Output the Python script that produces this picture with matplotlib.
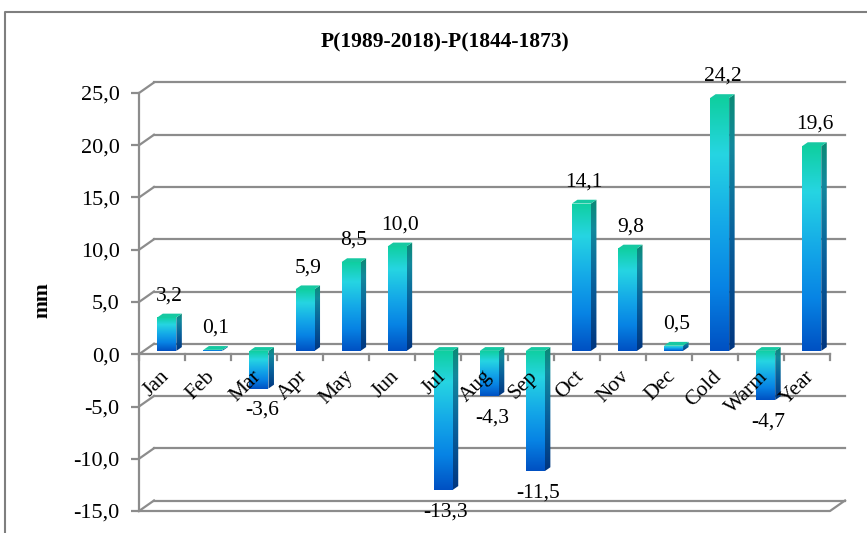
import numpy as np
import matplotlib
matplotlib.use("Agg")
import matplotlib.pyplot as plt
from matplotlib.colors import LinearSegmentedColormap
from matplotlib.patches import Polygon
from matplotlib.lines import Line2D
from matplotlib.ticker import FuncFormatter

# ---- data -------------------------------------------------------------
categories = ["Jan", "Feb", "Mar", "Apr", "May", "Jun", "Jul", "Aug", "Sep",
              "Oct", "Nov", "Dec", "Cold", "Warm", "Year"]
values = [3.2, 0.1, -3.6, 5.9, 8.5, 10.0, -13.3, -4.3, -11.5,
          14.1, 9.8, 0.5, 24.2, -4.7, 19.6]
y_ticks = [-15, -10, -5, 0, 5, 10, 15, 20, 25]
title = "P(1989-2018)-P(1844-1873)"
y_label = "mm"

plt.rcParams["font.family"] = ["Liberation Serif", "DejaVu Serif"]

W, H = 867, 533
fig = plt.figure(figsize=(W / 100, H / 100), dpi=100)
fig.patch.set_facecolor("white")

# front plane of the 3-D plot box (pixel geometry)
ax_l, ax_r, ax_t, ax_b = 139, 830, 93, 511
ax = fig.add_axes([ax_l / W, (H - ax_b) / H, (ax_r - ax_l) / W, (ax_b - ax_t) / H])
ymin, ymax = -15, 25
ncat = len(categories)
ax.set_xlim(0, ncat)
ax.set_ylim(ymin, ymax)
ax.set_facecolor("none")

px_x = (ax_r - ax_l) / ncat          # pixels per category
px_y = (ax_b - ax_t) / (ymax - ymin)  # pixels per mm

# depth of the back wall, in data units
DX = 15 / px_x
DY = 10.5 / px_y

grid_c = "#8c8c8c"
grid_lw = 1.6

# back-wall gridlines with their diagonal joins to the value axis
for v in y_ticks:
    ax.add_line(Line2D([0, DX], [v, v + DY], color=grid_c, lw=grid_lw, clip_on=False))
    ax.add_line(Line2D([DX, ncat + DX], [v + DY, v + DY], color=grid_c, lw=grid_lw,
                       clip_on=False))
# floor at the bottom of the value range
ax.add_line(Line2D([0, ncat, ncat + DX], [ymin, ymin, ymin + DY], color=grid_c,
                   lw=grid_lw, clip_on=False))
# category axis at zero with tick marks between categories
ax.add_line(Line2D([0, ncat], [0, 0], color=grid_c, lw=grid_lw, clip_on=False))
tick_len = 6 / px_y
for k in range(ncat + 1):
    ax.add_line(Line2D([k, k], [0, -tick_len], color=grid_c, lw=grid_lw, clip_on=False))

# ---- bars ---------------------------------------------------------------
front_cmap = LinearSegmentedColormap.from_list(
    "front", [(0.0, "#0050c2"), (0.25, "#0783e4"), (0.5, "#14a8e8"),
              (0.78, "#26d5e2"), (1.0, "#0fcfa0")])
side_cmap = LinearSegmentedColormap.from_list(
    "side", [(0.0, "#00357f"), (0.45, "#08619c"), (0.8, "#12889c"),
             (1.0, "#0a8a74")])
top_color = "#16c9a2"

bar_w = 19 / px_x
d0 = 0.32                 # front face position within the box depth
bdx = 5.5 / px_x          # bar depth
bdy = 3.8 / px_y
grad = np.linspace(0, 1, 256).reshape(-1, 1)

for i, v in enumerate(values):
    x0 = i + 0.5 - bar_w / 2 + d0 * DX
    x1 = x0 + bar_w
    yb = d0 * DY
    ylo, yhi = min(yb, yb + v), max(yb, yb + v)

    # front face with vertical gradient
    front = Polygon([(x0, ylo), (x1, ylo), (x1, yhi), (x0, yhi)], closed=True,
                    facecolor="none", edgecolor="none")
    ax.add_patch(front)
    im = ax.imshow(grad, cmap=front_cmap, origin="lower", aspect="auto",
                   extent=(x0, x1, ylo, yhi), interpolation="bilinear", zorder=3)
    im.set_clip_path(front)

    # side face
    side = Polygon([(x1, ylo), (x1 + bdx, ylo + bdy), (x1 + bdx, yhi + bdy), (x1, yhi)],
                   closed=True, facecolor="none", edgecolor="none")
    ax.add_patch(side)
    ims = ax.imshow(grad, cmap=side_cmap, origin="lower", aspect="auto",
                    extent=(x1, x1 + bdx, ylo, yhi + bdy), interpolation="bilinear",
                    zorder=3)
    ims.set_clip_path(side)

    # top face
    ax.add_patch(Polygon([(x0, yhi), (x1, yhi), (x1 + bdx, yhi + bdy), (x0 + bdx, yhi + bdy)],
                         closed=True, facecolor=top_color, edgecolor="none", zorder=4))

    # value label
    label = f"{v:.1f}".replace(".", ",")
    cx = (x0 + x1) / 2 + bdx / 2
    if v >= 0:
        ax.annotate(label, (cx, yhi + bdy), xytext=(0, 6), textcoords="offset points",
                    ha="center", va="bottom", fontsize=15.5, zorder=5,
                    annotation_clip=False)
    else:
        ax.annotate(label, (cx, ylo), xytext=(0, -9), textcoords="offset points",
                    ha="center", va="top", fontsize=15.5, zorder=5,
                    annotation_clip=False)

# category labels, rotated
for i, name in enumerate(categories):
    ax.annotate(name, (i + 0.5, 0), xytext=(3, -14), textcoords="offset points",
                rotation=45, ha="right", va="center", rotation_mode="anchor",
                fontsize=15.5, annotation_clip=False)

# ---- value axis ----------------------------------------------------------
for s in ["top", "right", "bottom"]:
    ax.spines[s].set_visible(False)
ax.spines["left"].set_color(grid_c)
ax.spines["left"].set_linewidth(grid_lw)
ax.set_yticks(y_ticks)
ax.yaxis.set_major_formatter(FuncFormatter(lambda t, p: f"{t:.1f}".replace(".", ",")))
ax.tick_params(axis="y", length=6, width=grid_lw, color=grid_c, pad=8, labelsize=16)
ax.set_xticks([])

fig.text(42 / W, 1 - 300 / H, y_label, rotation=90, ha="center", va="center",
         fontsize=15.5, fontweight="bold")
fig.text(445 / W, 1 - 42 / H, title, ha="center", va="center", fontsize=15.5,
         fontweight="bold")

# chart-area frame
fig.add_artist(Line2D([5 / W, 5 / W, 1.0], [0.0, 1 - 12 / H, 1 - 12 / H],
                      transform=fig.transFigure, color="#7f7f7f", lw=1.5))

fig.savefig("out.png", dpi=100)
